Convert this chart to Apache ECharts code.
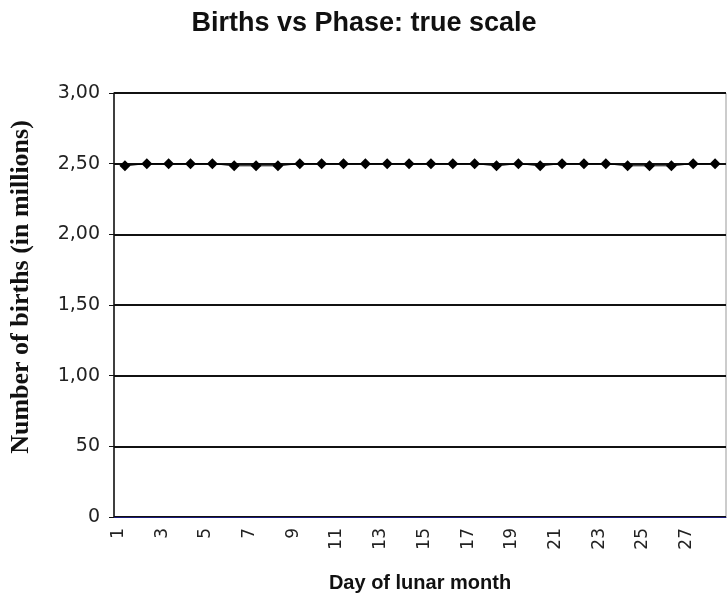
<!DOCTYPE html>
<html><head><meta charset="utf-8">
<script src="https://cdn.jsdelivr.net/npm/echarts@6/dist/echarts.min.js"></script>
<style>html,body{margin:0;padding:0;background:#fff}#c{width:728px;height:604px}</style>
</head><body><div id="c"></div>
<script>
const days = ['1','2','3','4','5','6','7','8','9','10','11','12','13','14','15','16','17','18','19','20','21','22','23','24','25','26','27','28'];
const births = [2.485,2.50,2.50,2.50,2.50,2.485,2.485,2.485,2.50,2.50,2.50,2.50,2.50,2.50,2.50,2.50,2.50,2.485,2.50,2.485,2.50,2.50,2.50,2.485,2.485,2.485,2.50,2.50];
const yTickLabels = ['0','50','1,00','1,50','2,00','2,50','3,00'];

const chart = echarts.init(document.getElementById('c'));
chart.setOption({
  animation: false,
  backgroundColor: '#fff',
  title: {
    text: 'Births vs Phase: true scale',
    left: 'center', top: 5,
    textStyle: {fontFamily: 'Liberation Sans, Arial', fontWeight: 'bold', fontSize: 27, color: '#111'}
  },
  grid: {left: 114, right: 2, top: 93, bottom: 87, show: true, borderColor: '#999', borderWidth: 1,
    outerBoundsMode: 'none', containLabel: false},
  xAxis: {
    type: 'category', data: days, boundaryGap: true,
    name: 'Day of lunar month', nameLocation: 'middle', nameGap: 56,
    nameTextStyle: {fontFamily: 'Liberation Sans, Arial', fontWeight: 'bold', fontSize: 20, color: '#111'},
    axisLine: {lineStyle: {color: '#1a1a7a', width: 1}},
    axisTick: {interval: 0, length: 5, lineStyle: {color: '#111'}},
    axisLabel: {interval: 1, rotate: 90, margin: 11, fontFamily: 'DejaVu Sans, Liberation Sans', fontSize: 17, lineHeight: 13, color: '#222', verticalAlign: 'bottom'}
  },
  yAxis: {
    type: 'value', min: 0, max: 3, interval: 0.5,
    name: 'Number of births (in millions)', nameLocation: 'middle', nameGap: 80,
    nameTextStyle: {fontFamily: 'Liberation Serif, Times New Roman', fontWeight: 'bold', fontSize: 26, color: '#111', padding: [0,0,0,36]},
    axisLine: {show: true, lineStyle: {color: '#111', width: 1.5}},
    axisTick: {show: true, length: 5, lineStyle: {color: '#111'}},
    axisLabel: {margin: 14, fontFamily: 'DejaVu Sans, Liberation Sans', fontSize: 19, color: '#222',
      formatter: v => yTickLabels[Math.round(v / 0.5)]},
    splitLine: {show: true, lineStyle: {color: '#111', width: 2}}
  },
  series: [{
    type: 'line', data: births,
    symbol: 'diamond', symbolSize: 11,
    itemStyle: {color: '#000'},
    lineStyle: {color: '#000', width: 1}
  }]
});
</script></body></html>
